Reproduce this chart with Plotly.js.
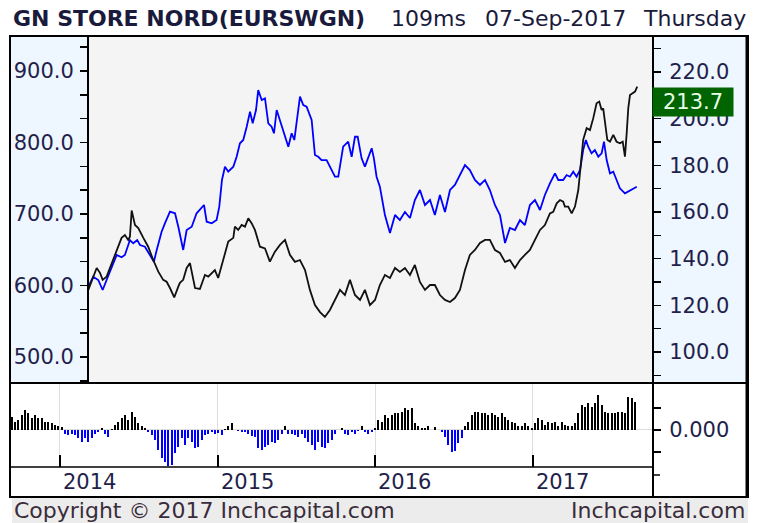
<!DOCTYPE html>
<html><head><meta charset="utf-8">
<script src="https://cdn.plot.ly/plotly-3.0.1.min.js"></script>
<style>html,body{margin:0;padding:0;background:#fff;}#chart{width:763px;height:523px;}</style>
</head><body><div id="chart"></div>
<script>
// ---- data (time as decimal year) ----
const blackT=[2014.180,2014.211,2014.233,2014.254,2014.271,2014.296,2014.328,2014.360,2014.391,2014.412,
2014.433,2014.444,2014.455,2014.476,2014.497,2014.529,2014.560,2014.592,2014.624,2014.655,
2014.677,2014.698,2014.725,2014.751,2014.761,2014.782,2014.804,2014.825,2014.857,2014.888,
2014.920,2014.941,2014.983,2015.004,2015.036,2015.068,2015.100,2015.110,2015.131,2015.153,
2015.174,2015.195,2015.216,2015.237,2015.269,2015.301,2015.332,2015.364,2015.396,2015.428,
2015.459,2015.491,2015.523,2015.555,2015.586,2015.618,2015.650,2015.681,2015.713,2015.745,
2015.777,2015.808,2015.840,2015.872,2015.904,2015.935,2015.967,2015.999,2016.030,2016.062,
2016.094,2016.126,2016.157,2016.189,2016.221,2016.252,2016.284,2016.316,2016.348,2016.379,
2016.411,2016.443,2016.475,2016.506,2016.538,2016.570,2016.601,2016.633,2016.665,2016.697,
2016.728,2016.760,2016.792,2016.824,2016.855,2016.887,2016.919,2016.950,2016.982,2017.014,
2017.046,2017.077,2017.109,2017.130,2017.152,2017.173,2017.193,2017.204,2017.225,2017.247,
2017.268,2017.289,2017.310,2017.320,2017.342,2017.363,2017.384,2017.405,2017.422,2017.437,
2017.447,2017.458,2017.473,2017.490,2017.511,2017.532,2017.553,2017.571,2017.585,2017.596,
2017.606,2017.617,2017.638,2017.649,2017.663];
const blackV=[126.6,132.3,136.0,133.9,130.9,132.3,138.1,143.7,148.9,150.1,
148.0,149.4,160.6,154.4,153.1,148.9,145.1,139.4,134.4,130.9,
130.1,127.4,123.4,128.0,129.6,130.9,136.0,138.1,127.4,127.0,
133.0,132.3,135.1,131.7,139.4,147.3,148.9,153.7,152.3,154.4,
153.7,157.3,155.2,152.3,145.1,144.4,138.7,143.0,145.9,148.0,
141.6,138.6,139.4,135.1,126.6,120.1,117.1,115.0,118.0,122.3,
126.6,124.4,130.9,124.4,122.3,126.6,120.1,122.3,128.7,133.0,
131.7,136.0,134.3,136.0,133.0,137.3,130.0,126.6,128.7,128.7,
124.4,122.3,121.4,123.1,126.6,135.1,141.6,143.7,146.7,148.0,
148.0,143.7,142.4,138.6,139.4,136.0,139.4,141.6,143.7,148.0,
152.3,154.4,159.4,160.1,163.7,165.1,164.4,162.3,162.3,159.4,
162.3,169.4,183.7,190.9,195.9,195.1,200.2,206.6,207.3,203.7,
204.4,198.7,190.9,190.1,193.0,190.1,189.4,190.1,183.7,193.7,
204.4,210.1,210.9,211.6,213.7];
const blueT=[2014.180,2014.211,2014.243,2014.271,2014.296,2014.328,2014.360,2014.391,2014.412,2014.444,
2014.465,2014.490,2014.508,2014.539,2014.571,2014.596,2014.614,2014.645,2014.666,2014.698,
2014.730,2014.751,2014.782,2014.804,2014.836,2014.867,2014.914,2014.931,2014.963,2014.994,
2015.011,2015.028,2015.047,2015.068,2015.100,2015.121,2015.142,2015.163,2015.185,2015.206,
2015.223,2015.244,2015.258,2015.280,2015.301,2015.322,2015.343,2015.358,2015.375,2015.396,
2015.417,2015.449,2015.470,2015.487,2015.523,2015.544,2015.565,2015.597,2015.618,2015.639,
2015.660,2015.692,2015.713,2015.745,2015.766,2015.797,2015.829,2015.851,2015.872,2015.889,
2015.914,2015.935,2015.978,2015.992,2016.009,2016.030,2016.062,2016.094,2016.126,2016.157,
2016.189,2016.221,2016.252,2016.284,2016.316,2016.348,2016.379,2016.411,2016.443,2016.475,
2016.506,2016.538,2016.570,2016.601,2016.633,2016.665,2016.697,2016.728,2016.760,2016.792,
2016.824,2016.855,2016.887,2016.919,2016.950,2016.982,2017.014,2017.046,2017.077,2017.109,
2017.141,2017.162,2017.193,2017.215,2017.236,2017.257,2017.278,2017.300,2017.320,2017.337,
2017.352,2017.373,2017.394,2017.416,2017.437,2017.452,2017.469,2017.490,2017.511,2017.532,
2017.553,2017.585,2017.606,2017.628,2017.660];
const blueV=[598.3,612.3,607.7,593.7,607.7,626.3,642.7,639.4,642.7,663.6,
659.0,663.6,656.6,654.3,642.7,633.3,649.7,675.2,687.0,703.2,
701.0,682.2,649.7,677.6,682.2,701.0,712.6,689.2,687.0,691.6,
710.2,747.6,766.2,759.2,766.2,780.1,798.9,803.5,822.1,843.1,
826.9,845.5,873.4,859.4,861.8,826.9,822.1,812.9,845.5,831.5,
817.5,794.1,812.9,803.5,864.1,852.4,850.1,831.5,782.5,780.1,
775.5,775.5,766.2,752.2,752.2,794.1,801.1,780.1,808.1,808.1,
777.9,766.2,791.9,777.9,752.2,738.2,698.6,673.4,698.6,691.6,
702.8,694.4,719.6,733.6,712.6,719.6,698.6,726.6,702.8,733.6,
740.6,754.5,768.5,761.5,747.6,740.6,747.6,733.6,712.6,698.6,
659.4,680.4,677.6,691.6,684.6,712.6,719.6,705.6,726.6,742.9,
756.9,747.6,747.6,754.5,752.2,759.2,752.2,761.5,789.5,803.5,
794.1,784.9,789.5,780.1,784.9,801.1,775.5,756.9,759.2,747.6,
735.9,728.9,731.2,733.6,738.2];
const barT=[2013.693,2013.714,2013.736,2013.757,2013.778,2013.799,2013.820,2013.841,2013.863,2013.884,
2013.905,2013.926,2013.947,2013.968,2013.989,2014.011,2014.032,2014.053,2014.074,2014.095,
2014.116,2014.137,2014.159,2014.180,2014.201,2014.222,2014.243,2014.264,2014.285,2014.307,
2014.328,2014.349,2014.370,2014.391,2014.412,2014.434,2014.455,2014.476,2014.497,2014.518,
2014.539,2014.560,2014.582,2014.603,2014.624,2014.645,2014.666,2014.687,2014.709,2014.730,
2014.751,2014.772,2014.793,2014.814,2014.836,2014.857,2014.878,2014.899,2014.920,2014.941,
2014.962,2014.984,2015.005,2015.026,2015.047,2015.068,2015.089,2015.110,2015.132,2015.153,
2015.174,2015.195,2015.216,2015.237,2015.259,2015.280,2015.301,2015.322,2015.343,2015.364,
2015.385,2015.407,2015.428,2015.449,2015.470,2015.491,2015.512,2015.533,2015.555,2015.576,
2015.597,2015.618,2015.639,2015.660,2015.682,2015.703,2015.724,2015.745,2015.766,2015.787,
2015.808,2015.830,2015.851,2015.872,2015.893,2015.914,2015.935,2015.956,2015.978,2015.999,
2016.020,2016.041,2016.062,2016.083,2016.104,2016.126,2016.147,2016.168,2016.189,2016.210,
2016.231,2016.253,2016.274,2016.295,2016.316,2016.337,2016.358,2016.379,2016.401,2016.422,
2016.443,2016.464,2016.485,2016.506,2016.527,2016.549,2016.570,2016.591,2016.612,2016.633,
2016.654,2016.676,2016.697,2016.718,2016.739,2016.760,2016.781,2016.802,2016.824,2016.845,
2016.866,2016.887,2016.908,2016.929,2016.951,2016.972,2016.993,2017.014,2017.035,2017.056,
2017.077,2017.099,2017.120,2017.141,2017.162,2017.183,2017.204,2017.225,2017.247,2017.268,
2017.289,2017.310,2017.331,2017.352,2017.374,2017.395,2017.416,2017.437,2017.458,2017.479,
2017.500,2017.522,2017.543,2017.564,2017.585,2017.606,2017.627,2017.648];
const barV=[0.030,0.019,0.023,0.034,0.045,0.038,0.027,0.034,0.027,0.027,
0.019,0.019,0.015,0.011,0.008,0.006,-0.008,-0.011,-0.009,-0.011,
-0.019,-0.027,-0.019,-0.027,-0.019,-0.008,-0.004,0.004,-0.008,-0.015,
0.002,0.011,0.019,0.027,0.034,0.023,0.042,0.030,0.015,0.008,
0.004,-0.004,-0.011,-0.023,-0.045,-0.064,-0.072,-0.082,-0.080,-0.053,
-0.038,-0.019,-0.034,-0.019,-0.027,-0.042,-0.038,-0.023,-0.011,-0.008,
-0.004,-0.008,-0.006,-0.011,0.002,0.008,0.015,0.001,-0.002,-0.004,
-0.004,-0.008,-0.014,-0.015,-0.042,-0.045,-0.038,-0.034,-0.027,-0.030,
-0.023,-0.008,0.008,-0.008,-0.008,-0.011,-0.015,-0.008,-0.019,-0.027,
-0.034,-0.045,-0.027,-0.038,-0.042,-0.030,-0.023,-0.008,0.001,0.004,
-0.008,-0.011,-0.004,-0.008,-0.002,0.008,-0.004,-0.008,-0.004,0.004,
0.023,0.019,0.034,0.027,0.034,0.038,0.038,0.042,0.049,0.045,0.049,
0.015,0.008,0.004,0.004,0.008,0.001,0.006,0.001,-0.004,-0.015,
-0.034,-0.049,-0.047,-0.030,-0.019,0.008,0.019,0.034,0.042,0.042,
0.038,0.038,0.034,0.038,0.034,0.030,0.038,0.030,0.023,0.019,
0.015,0.008,0.008,0.015,0.008,0.004,0.015,0.027,0.023,0.011,
0.019,0.015,0.019,0.008,0.019,0.011,0.008,0.008,0.015,0.038,
0.057,0.053,0.061,0.053,0.061,0.080,0.057,0.042,0.038,0.038,
0.038,0.042,0.042,0.038,0.076,0.072,0.064];
const yearTicks=[2014,2015,2016,2017];
const yearLabels=['2014','2015','2016','2017'];
const leftTicks=[500,600,700,800,900];
const rightTicks=[100,120,140,160,180,200,220];
const titleText='GN STORE NORD(EURSWGN)';
const speedText='109ms';
const dateText='07-Sep-2017';
const dayText='Thursday';
const footLeft='Copyright \u00a9 2017 Inchcapital.com';
const footRight='Inchcapital.com';

// ---- layout geometry (pixels -> paper) ----
const L=10,R=748,T=36,B=497;
const px=X=>(X-L)/(R-L);
const py=Y=>(B-Y)/(B-T);
const FONT='DejaVu Sans';
const LBL='#231f4a';

const traces=[
 {x:barT,y:barV,type:'bar',xaxis:'x',yaxis:'y2',width:0.0125,
  marker:{color:barV.map(v=>v>=0?'#000000':'#0000ff'),line:{width:0}},hoverinfo:'skip'},
 {x:blueT,y:blueV,type:'scatter',mode:'lines',xaxis:'x2',yaxis:'y',
  line:{color:'#0000ff',width:1.8},hoverinfo:'skip'},
 {x:blackT,y:blackV,type:'scatter',mode:'lines',xaxis:'x2',yaxis:'y3',
  line:{color:'#111111',width:1.8},hoverinfo:'skip'}
];

const xr=[2013.683,2017.763];
const shapes=[
 {type:'rect',xref:'paper',yref:'paper',x0:px(10),x1:px(88),y0:py(383),y1:py(36),fillcolor:'#eef6ff',line:{width:0},layer:'below'},
 {type:'rect',xref:'paper',yref:'paper',x0:px(88),x1:px(653),y0:py(383),y1:py(36),fillcolor:'#f4f4f4',line:{width:0},layer:'below'},
 {type:'rect',xref:'paper',yref:'paper',x0:px(653),x1:px(748),y0:py(383),y1:py(36),fillcolor:'#eef6ff',line:{width:0},layer:'below'},
 {type:'rect',xref:'paper',yref:'paper',x0:px(12),x1:px(748),y0:py(523),y1:py(498),fillcolor:'#ececec',line:{width:0},layer:'below'},
 {type:'rect',xref:'paper',yref:'paper',x0:px(10),x1:px(748),y0:py(497),y1:py(36),line:{color:'#000',width:2}},
 {type:'line',xref:'paper',yref:'paper',x0:px(747),x1:px(747),y0:py(497),y1:py(36),line:{color:'#000',width:3}},
 {type:'line',xref:'paper',yref:'paper',x0:px(10),x1:px(748),y0:py(383),y1:py(383),line:{color:'#000',width:2}},
 {type:'line',xref:'paper',yref:'paper',x0:px(10),x1:px(653),y0:py(467),y1:py(467),line:{color:'#000',width:1.5}},
 {type:'line',xref:'paper',yref:'paper',x0:px(88),x1:px(88),y0:py(383),y1:py(36),line:{color:'#000',width:2}},
 {type:'line',xref:'paper',yref:'paper',x0:px(653),x1:px(653),y0:py(497),y1:py(36),line:{color:'#000',width:2}},
 {type:'line',xref:'paper',yref:'paper',x0:px(653),x1:px(660),y0:py(475),y1:py(475),line:{color:'#000',width:1.5}}
];

const annotations=[
 {text:titleText,xref:'paper',yref:'paper',x:px(11),y:py(18),xanchor:'left',yanchor:'middle',showarrow:false,
  font:{family:FONT,size:22,weight:'bold',color:'#1a1a3c'}},
 {text:speedText,xref:'paper',yref:'paper',x:px(389),y:py(18),xanchor:'left',yanchor:'middle',showarrow:false,
  font:{family:FONT,size:22,color:'#1a1a3c'}},
 {text:dateText,xref:'paper',yref:'paper',x:px(483),y:py(18),xanchor:'left',yanchor:'middle',showarrow:false,
  font:{family:FONT,size:22,color:'#1a1a3c'}},
 {text:dayText,xref:'paper',yref:'paper',x:px(748),y:py(18),xanchor:'right',yanchor:'middle',showarrow:false,
  font:{family:FONT,size:22,color:'#1a1a3c'}},
 {text:footLeft,xref:'paper',yref:'paper',x:px(12),y:py(511),xanchor:'left',yanchor:'middle',showarrow:false,
  font:{family:FONT,size:22,color:'#3a2c3a'}},
 {text:footRight,xref:'paper',yref:'paper',x:px(747),y:py(511),xanchor:'right',yanchor:'middle',showarrow:false,
  font:{family:FONT,size:22,color:'#3a2c3a'}},
 {text:blackV[blackV.length-1].toFixed(1),xref:'paper',yref:'paper',x:px(652),y:py(102),xanchor:'left',yanchor:'middle',
  showarrow:false,bgcolor:'#006400',width:80,height:28,borderpad:0,align:'center',
  font:{family:FONT,size:21,color:'#e8ffe8'}}
];
yearTicks.forEach((t,i)=>annotations.push({text:yearLabels[i],xref:'x',yref:'paper',x:t,y:py(482),xanchor:'left',
  yanchor:'middle',xshift:1,showarrow:false,font:{family:FONT,size:21,color:LBL}}));

const layout={
 width:763,height:523,margin:{l:L,r:763-R,t:T,b:523-B,pad:0},
 paper_bgcolor:'#ffffff',plot_bgcolor:'rgba(0,0,0,0)',showlegend:false,
 font:{family:FONT,color:LBL},
 xaxis:{domain:[0,px(653)],anchor:'y2',range:xr,tickmode:'array',tickvals:yearTicks,showticklabels:false,
  ticks:'inside',ticklen:12,tickwidth:2,tickcolor:'#000',showgrid:true,gridcolor:'#dddddd',gridwidth:1,
  zeroline:false,showline:false,fixedrange:true},
 xaxis2:{domain:[0,px(653)],anchor:'y',range:xr,visible:false,showgrid:false,zeroline:false,fixedrange:true},
 yaxis:{domain:[py(383),1],anchor:'free',position:px(88),side:'left',range:[463.6,949.0],
  tickmode:'array',tickvals:leftTicks,tickformat:'.1f',ticks:'outside',ticklen:8,tickwidth:1.5,tickcolor:'#000',
  tickfont:{family:FONT,size:21,color:LBL},ticklabelstandoff:2,
  minor:{tickmode:'linear',tick0:500,dtick:100/3,ticks:'outside',ticklen:8,tickwidth:1.5,tickcolor:'#000',showgrid:false},
  showgrid:false,zeroline:false,showline:false,fixedrange:true},
 yaxis3:{overlaying:'y',anchor:'x2',side:'right',range:[86.7,235.4],
  tickmode:'array',tickvals:rightTicks,tickformat:'.1f',ticks:'outside',ticklen:7,tickwidth:1.5,tickcolor:'#000',
  tickfont:{family:FONT,size:21,color:LBL},ticklabelstandoff:4,
  minor:{tickmode:'linear',tick0:100,dtick:10,ticks:'outside',ticklen:7,tickwidth:1.5,tickcolor:'#000',showgrid:false},
  showgrid:false,zeroline:false,showline:false,fixedrange:true},
 yaxis2:{domain:[py(467),py(383)],anchor:'x',side:'right',range:[-0.0841,0.1068],
  tickmode:'array',tickvals:[-0.05,0,0.05],ticktext:['','0.000',''],ticks:'outside',ticklen:7,tickwidth:1.5,tickcolor:'#000',
  tickfont:{family:FONT,size:21,color:LBL},ticklabelstandoff:4,
  showgrid:false,zeroline:true,zerolinecolor:'#dddddd',zerolinewidth:1,showline:false,fixedrange:true},
 bargap:0,shapes:shapes,annotations:annotations
};
Plotly.newPlot('chart',traces,layout,{staticPlot:true,displayModeBar:false});
</script></body></html>
